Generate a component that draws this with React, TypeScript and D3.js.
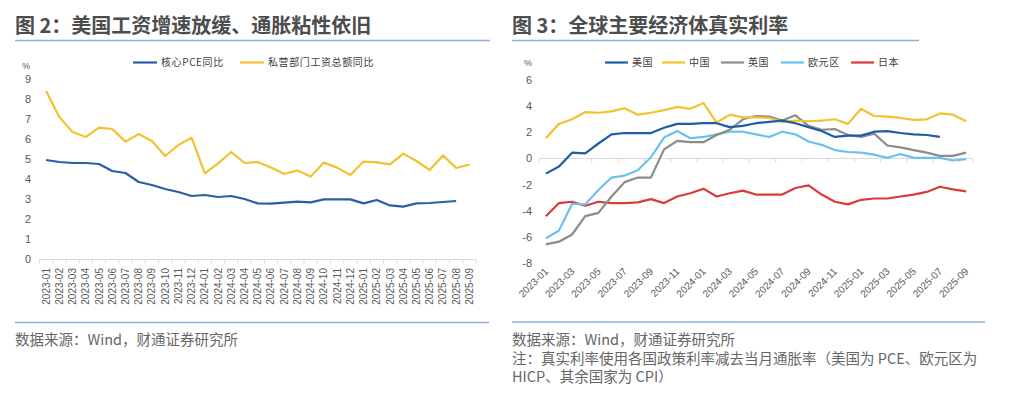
import React from "react";
import * as d3 from "d3";

// 2023-01 .. 2025-09
const months = [
  "2023-01", "2023-02", "2023-03", "2023-04", "2023-05", "2023-06", "2023-07", "2023-08", "2023-09", "2023-10", "2023-11", "2023-12",
  "2024-01", "2024-02", "2024-03", "2024-04", "2024-05", "2024-06", "2024-07", "2024-08", "2024-09", "2024-10", "2024-11", "2024-12",
  "2025-01", "2025-02", "2025-03", "2025-04", "2025-05", "2025-06", "2025-07", "2025-08", "2025-09",
];

// chart 2
const corePce = [
  4.95, 4.85, 4.8, 4.8, 4.75, 4.4, 4.3, 3.85, 3.7, 3.5, 3.35, 3.15,
  3.2, 3.1, 3.15, 3.0, 2.78, 2.77, 2.82, 2.87, 2.83, 2.98, 2.98, 2.98,
  2.78, 2.95, 2.68, 2.62, 2.78, 2.8, 2.85, 2.9, null,
];
const privateWages = [
  8.4, 7.1, 6.35, 6.1, 6.57, 6.5, 5.87, 6.25, 5.9, 5.15, 5.7, 6.07,
  4.28, 4.78, 5.35, 4.8, 4.85, 4.58, 4.25, 4.43, 4.12, 4.82, 4.57, 4.2,
  4.87, 4.83, 4.73, 5.27, 4.9, 4.45, 5.18, 4.55, 4.72,
];
const leftTicks = [0, 1, 2, 3, 4, 5, 6, 7, 8, 9];

// chart 3
const usReal = [
  -1.15, -0.6, 0.45, 0.4, 1.15, 1.85, 1.95, 1.95, 1.95, 2.35, 2.65, 2.65,
  2.7, 2.7, 2.4, 2.5, 2.7, 2.8, 2.9, 2.7, 2.4, 2.1, 1.65, 1.75,
  1.75, 2.05, 2.1, 1.95, 1.85, 1.8, 1.65, null, null,
];
const chinaReal = [
  1.55, 2.65, 3.0, 3.55, 3.5, 3.6, 3.85, 3.35, 3.5, 3.7, 3.95, 3.8,
  4.25, 2.75, 3.35, 3.15, 3.15, 3.1, 2.8, 2.9, 2.85, 2.9, 3.0, 2.65,
  3.8, 3.25, 3.2, 3.1, 2.95, 3.0, 3.45, 3.35, 2.85,
];
const ukReal = [
  -6.55, -6.35, -5.8, -4.4, -4.15, -2.9, -1.8, -1.45, -1.45, 0.7, 1.35, 1.25,
  1.25, 1.8, 2.2, 3.0, 3.25, 3.2, 2.9, 3.3, 2.5, 2.2, 2.25, 1.8,
  1.65, 1.9, 1.0, 0.85, 0.65, 0.45, 0.2, 0.2, 0.45,
];
const euroReal = [
  -6.1, -5.5, -3.45, -3.5, -2.4, -1.45, -1.3, -0.9, 0.1, 1.6, 2.1, 1.55,
  1.65, 1.85, 2.05, 2.05, 1.85, 1.65, 2.05, 1.85, 1.3, 1.05, 0.65, 0.5,
  0.45, 0.3, 0.05, 0.35, 0.05, 0.05, 0.05, -0.15, -0.05,
];
const japanReal = [
  -4.4, -3.4, -3.3, -3.6, -3.3, -3.4, -3.4, -3.35, -3.1, -3.4, -2.9, -2.65,
  -2.3, -2.9, -2.65, -2.45, -2.75, -2.75, -2.75, -2.25, -2.05, -2.75, -3.3, -3.5,
  -3.15, -3.05, -3.05, -2.9, -2.75, -2.55, -2.15, -2.35, -2.5,
];
const rightTicks = [-8, -6, -4, -2, 0, 2, 4, 6];

const CJK = "'Noto Sans CJK SC', 'Noto Sans', sans-serif";
const NUM = "'Liberation Sans', Arial, sans-serif";
const TICK_COLOR = "#595959";

const LeftChart = () => {
  const x = d3.scaleBand<string>().domain(months).range([39.5, 476]);
  const y = d3.scaleLinear().domain([0, 9]).range([259, 79]);
  const cx = (m: string) => (x(m) ?? 0) + x.bandwidth() / 2;
  const line = d3
    .line<number | null>()
    .defined((d) => d != null)
    .x((_, i) => cx(months[i]))
    .y((d) => y(d as number));

  const series = [
    { name: "核心PCE同比", values: corePce, color: "#2a5ea8", lx: 133 },
    { name: "私营部门工资总额同比", values: privateWages, color: "#f2c230", lx: 240 },
  ];

  return (
    <g>
      <text x={15} y={33} fontFamily={CJK} fontSize={20} fontWeight="bold" fill="#4d4d4d">
        图 2：美国工资增速放缓、通胀粘性依旧
      </text>
      <line x1={15} x2={490} y1={40.5} y2={40.5} stroke="#8fb1d9" strokeWidth={1.5} />

      <text x={26} y={69} fontFamily={NUM} fontSize={9} fill={TICK_COLOR} textAnchor="middle">%</text>
      {leftTicks.map((t) => (
        <text key={t} x={31} y={y(t)} dy="0.35em" fontFamily={NUM} fontSize={11} fill={TICK_COLOR} textAnchor="end">
          {t}
        </text>
      ))}

      <line x1={39.5} x2={476} y1={259.5} y2={259.5} stroke="#d9d9d9" />
      {months.concat(["end"]).map((m, i) => {
        const bx = 39.5 + i * x.bandwidth();
        return <line key={m} x1={bx} x2={bx} y1={259.5} y2={263.5} stroke="#d9d9d9" />;
      })}
      {months.map((m) => (
        <text
          key={m}
          transform={`translate(${cx(m) + 3.5},268) rotate(-90)`}
          fontFamily={NUM}
          fontSize={10}
          fill={TICK_COLOR}
          textAnchor="end"
        >
          {m}
        </text>
      ))}

      {series.map((s) => (
        <path key={s.name} d={line(s.values) ?? ""} fill="none" stroke={s.color} strokeWidth={2.2} strokeLinejoin="round" />
      ))}

      {series.map((s) => (
        <g key={s.name}>
          <line x1={s.lx} x2={s.lx + 24} y1={62.5} y2={62.5} stroke={s.color} strokeWidth={2.2} />
          <text x={s.lx + 28} y={62.5} dy="0.35em" fontFamily={CJK} fontSize={10} fill="#404040" letterSpacing={0.6}>
            {s.name}
          </text>
        </g>
      ))}

      <line x1={15} x2={489} y1={322.5} y2={322.5} stroke="#8fb1d9" strokeWidth={1.5} />
      <text x={15} y={345} fontFamily={CJK} fontSize={14.5} fill="#666">
        数据来源：Wind，财通证券研究所
      </text>
    </g>
  );
};

const RightChart = () => {
  const x = d3.scaleBand<string>().domain(months).range([539.3, 972.7]);
  const y = d3.scaleLinear().domain([-8, 6]).range([263.3, 80]);
  const cx = (m: string) => (x(m) ?? 0) + x.bandwidth() / 2;
  const line = d3
    .line<number | null>()
    .defined((d) => d != null)
    .x((_, i) => cx(months[i]))
    .y((d) => y(d as number));

  const series = [
    { name: "美国", values: usReal, color: "#1f5ca6", lx: 605 },
    { name: "中国", values: chinaReal, color: "#f2c230", lx: 662 },
    { name: "英国", values: ukReal, color: "#8c8c8c", lx: 721 },
    { name: "欧元区", values: euroReal, color: "#6cc0f0", lx: 781 },
    { name: "日本", values: japanReal, color: "#d93a3a", lx: 851 },
  ];
  const drawOrder = [4, 3, 2, 1, 0];

  return (
    <g>
      <text x={512} y={33} fontFamily={CJK} fontSize={20} fontWeight="bold" fill="#4d4d4d">
        图 3：全球主要经济体真实利率
      </text>
      <line x1={512} x2={919} y1={40.5} y2={40.5} stroke="#8fb1d9" strokeWidth={1.5} />

      <text x={528} y={66} fontFamily={NUM} fontSize={9} fill={TICK_COLOR} textAnchor="middle">%</text>
      {rightTicks.map((t) => (
        <text key={t} x={532} y={y(t)} dy="0.35em" fontFamily={NUM} fontSize={11} fill={TICK_COLOR} textAnchor="end">
          {t}
        </text>
      ))}

      <line x1={539.3} x2={972.7} y1={y(0)} y2={y(0)} stroke="#d9d9d9" />
      {months.concat(["end"]).map((m, i) =>
        i % 2 === 0 || i === months.length ? (
          <line
            key={m}
            x1={539.3 + i * x.bandwidth()}
            x2={539.3 + i * x.bandwidth()}
            y1={y(0)}
            y2={y(0) + 4}
            stroke="#d9d9d9"
          />
        ) : null
      )}
      {months.map((m, i) =>
        i % 2 === 0 ? (
          <text
            key={m}
            transform={`translate(${cx(m) + 3},272) rotate(-45)`}
            fontFamily={NUM}
            fontSize={10}
            fill={TICK_COLOR}
            textAnchor="end"
          >
            {m}
          </text>
        ) : null
      )}

      {drawOrder.map((k) => {
        const s = series[k];
        return (
          <path key={s.name} d={line(s.values) ?? ""} fill="none" stroke={s.color} strokeWidth={2.2} strokeLinejoin="round" />
        );
      })}

      {series.map((s) => (
        <g key={s.name}>
          <line x1={s.lx} x2={s.lx + 23} y1={62.5} y2={62.5} stroke={s.color} strokeWidth={2.2} />
          <text x={s.lx + 27} y={62.5} dy="0.35em" fontFamily={CJK} fontSize={10} fill="#404040" letterSpacing={0.6}>
            {s.name}
          </text>
        </g>
      ))}

      <line x1={512} x2={985} y1={322} y2={322} stroke="#8fb1d9" strokeWidth={1.5} />
      <text x={512} y={345} fontFamily={CJK} fontSize={14.5} fill="#666">
        数据来源：Wind，财通证券研究所
      </text>
      <text x={512} y={363.5} fontFamily={CJK} fontSize={14.5} fill="#666">
        注：真实利率使用各国政策利率减去当月通胀率（美国为 PCE、欧元区为
      </text>
      <text x={512} y={382} fontFamily={CJK} fontSize={14.5} fill="#666">
        HICP、其余国家为 CPI）
      </text>
    </g>
  );
};

export default function App() {
  return (
    <div style={{ position: "fixed", left: 0, top: 0 }}>
      <svg width={1024} height={397} style={{ display: "block", background: "#fff" }}>
        <LeftChart />
        <RightChart />
      </svg>
    </div>
  );
}
